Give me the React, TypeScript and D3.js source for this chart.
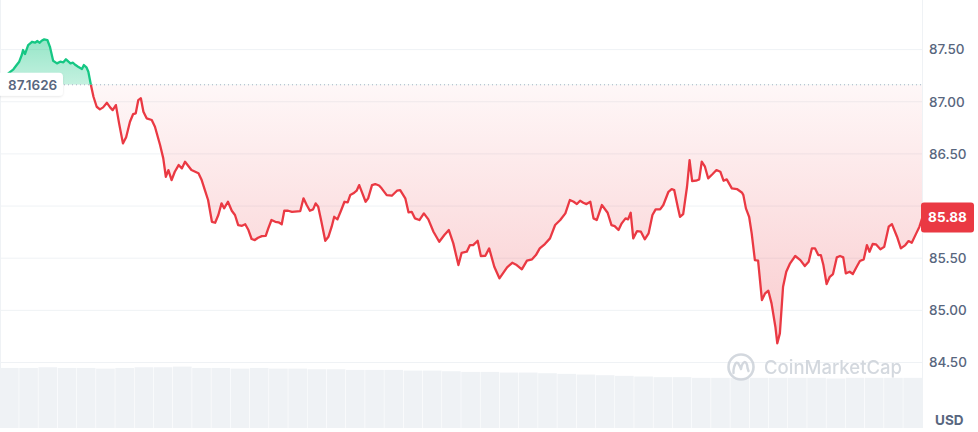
import React from 'react';
import * as d3 from 'd3';

const minutes = [0,13,21,26,30,34,36,39,44,50,55,58,62,65,69,74,78,83,89,94,99,103,107,110,114,118,122,128,131,135,138,142,146,151,156,161,167,172,176,181,186,192,197,203,208,212,216,220,224,229,237,242,250,255,259,263,268,273,279,284,289,
299,310,315,320,325,331,336,341,346,350,356,362,367,372,378,383,388,393,398,403,409,415,419,424,430,435,440,444,450,456,469,474,479,484,489,493,497,502,508,513,518,522,527,533,538,543,547,552,557,561,566,571,575,581,
586,592,596,604,612,620,625,633,638,643,648,655,662,669,677,686,694,701,708,716,721,729,734,739,746,751,758,764,772,780,786,792,800,807,815,823,831,837,843,851,859,867,
875,883,890,896,901,906,911,916,922,927,932,940,949,955,960,966,971,977,981,985,989,995,1001,1007,1013,1019,1024,1031,1036,1044,1049,1053,1059,1062,1067,1073,1077,1081,1087,1092,1096,1101,1106,1113,1119,1125,1130,1135,1143,1151,1159,
1161,1165,1170,1174,1179,1184,1190,1195,1200,1205,1211,1214,1218,1223,1228,1234,1242,1250,1257,1263,1268,1273,1278,1282,1286,1291,1296,1301,1307,1312,1317,1321,1327,1332,1338,1343,1349,1354,1358,1363,1368,1375,1381,1388,1393,1401,1407,1414,1419,1424,1431,1436,1440];

const prices = [87.163,87.272,87.311,87.352,87.384,87.448,87.496,87.457,87.544,87.575,87.566,87.582,87.566,87.585,87.598,87.592,87.527,87.393,87.368,87.384,87.378,87.407,87.384,87.368,87.374,87.352,87.336,87.314,87.352,87.330,87.288,87.160,87.048,86.952,86.927,86.946,86.990,86.946,86.920,86.968,86.793,86.601,86.659,86.808,86.882,86.889,87.016,87.033,86.904,86.841,86.825,86.760,86.585,86.457,86.281,86.345,86.249,86.329,86.393,86.361,86.425,
86.345,86.314,86.249,86.153,86.058,85.849,85.840,85.914,86.026,85.978,86.041,85.955,85.914,85.818,85.811,85.825,85.770,85.684,85.674,85.696,85.712,85.715,85.786,85.866,85.849,85.844,85.825,85.955,85.955,85.945,85.952,86.074,86.010,85.955,85.968,86.026,85.993,85.849,85.667,85.706,85.802,85.897,85.872,85.962,86.041,86.035,86.105,86.122,86.147,86.201,86.122,86.041,86.074,86.201,
86.211,86.197,86.170,86.105,86.099,86.147,86.153,86.074,85.940,85.945,85.882,85.866,85.930,85.872,85.754,85.658,85.722,85.770,85.642,85.434,85.552,85.562,85.626,85.626,85.667,85.521,85.523,85.594,85.418,85.307,85.360,85.412,85.456,85.434,85.393,85.476,85.489,85.530,85.594,85.636,85.690,85.818,
85.866,85.930,86.058,86.041,86.019,86.051,86.032,86.019,86.041,85.882,85.866,86.010,85.936,85.818,85.808,85.770,85.834,85.882,85.872,85.936,85.690,85.760,85.754,85.681,85.738,85.914,85.968,85.968,86.010,86.137,86.163,86.153,85.978,85.897,85.923,86.185,86.441,86.240,86.243,86.256,86.425,86.377,86.266,86.307,86.345,86.329,86.243,86.256,86.170,86.163,86.128,
86.105,85.978,85.897,85.738,85.482,85.476,85.099,85.163,85.188,85.067,84.843,84.684,84.779,85.226,85.370,85.451,85.521,85.482,85.425,85.466,85.594,85.594,85.530,85.530,85.434,85.252,85.322,85.348,85.508,85.521,85.508,85.355,85.370,85.348,85.418,85.473,85.489,85.626,85.562,85.636,85.633,85.585,85.610,85.802,85.827,85.706,85.594,85.626,85.664,85.648,85.738,85.802,85.880];

const volumes = [91,91,92,91,91,90,91,92,92,93,91,91,90,91,90,90,
89,89,88,88,88,87,87,86,85,85,84,84,83,82,81,80,
79,78,77,77,76,76,76,76,76,76,76,75,76,76,76,76];

const yTicks = [87.5, 87.0, 86.5, 86.0, 85.5, 85.0, 84.5];
const tickLabels = ['87.50', '87.00', '86.50', '86.00', '85.50', '85.00', '84.50'];
const openPrice = 87.1626;
const openLabel = '87.1626';
const lastPrice = 85.88;
const lastLabel = '85.88';
const currency = 'USD';
const watermark = 'CoinMarketCap';

const W = 978;
const H = 432;
const plotRight = 922;
const volBottom = 428;

const GREEN = '#16c784';
const RED = '#ea3943';
const GREY_TEXT = '#58667e';
const GRID = '#eff2f5';
const FONT = 'Inter, "Noto Sans", sans-serif';

export default function App() {
  const data = minutes.map((m, i) => ({ t: m, v: prices[i] }));
  const x = d3.scaleLinear().domain([0, 1440]).range([0, plotRight]);
  const y = d3.scaleLinear().domain([84.5, 87.5]).range([362.5, 49.6]);
  const yOpen = y(openPrice);

  const xVol = d3.scaleBand<number>().domain(volumes.map((_, i) => i)).range([0, plotRight]).paddingInner(0.03);
  const yVol = d3.scaleLinear().domain([0, 100]).range([volBottom, 362]);

  const line = d3.line<{ t: number; v: number }>().x(d => x(d.t)).y(d => y(d.v));
  const area = d3.area<{ t: number; v: number }>().x(d => x(d.t)).y0(yOpen).y1(d => y(d.v));
  const linePath = line(data) || '';
  const areaPath = area(data) || '';

  const yLast = y(lastPrice);
  const minY = y(d3.min(prices) as number);
  const maxY = y(d3.max(prices) as number);

  return (
    <svg width={W} height={H} style={{ position: 'absolute', left: 0, top: 0, background: '#fff' }} fontFamily={FONT}>
      <defs>
        <clipPath id="above">
          <rect x={0} y={0} width={plotRight} height={yOpen} />
        </clipPath>
        <clipPath id="below">
          <rect x={0} y={yOpen} width={plotRight} height={H - yOpen} />
        </clipPath>
        <linearGradient id="gGreen" gradientUnits="userSpaceOnUse" x1={0} y1={maxY} x2={0} y2={yOpen}>
          <stop offset="0" stopColor={GREEN} stopOpacity={0.45} />
          <stop offset="1" stopColor={GREEN} stopOpacity={0.25} />
        </linearGradient>
        <linearGradient id="gRed" gradientUnits="userSpaceOnUse" x1={0} y1={yOpen} x2={0} y2={minY}>
          <stop offset="0" stopColor={RED} stopOpacity={0.04} />
          <stop offset="1" stopColor={RED} stopOpacity={0.26} />
        </linearGradient>
        <filter id="shadow" x="-20%" y="-30%" width="140%" height="170%">
          <feDropShadow dx="0" dy="1" stdDeviation="1.2" floodColor="#000" floodOpacity="0.1" />
        </filter>
      </defs>

      {/* gridlines */}
      {yTicks.map((t, i) => (
        <line key={i} x1={0} x2={plotRight} y1={y(t)} y2={y(t)} stroke={GRID} strokeWidth={1} />
      ))}
      <line x1={0.5} x2={0.5} y1={0} y2={volBottom} stroke={GRID} strokeWidth={1} />
      <line x1={plotRight + 0.5} x2={plotRight + 0.5} y1={0} y2={volBottom} stroke={GRID} strokeWidth={1} />

      {/* volume */}
      {volumes.map((v, i) => (
        <rect key={i} x={xVol(i)} width={xVol.bandwidth()} y={yVol(v)} height={volBottom - yVol(v)} fill="#eff2f5" />
      ))}

      {/* areas */}
      <path d={areaPath} fill="url(#gGreen)" clipPath="url(#above)" />
      <path d={areaPath} fill="url(#gRed)" clipPath="url(#below)" />

      {/* baseline */}
      <line x1={0} x2={plotRight} y1={yOpen} y2={yOpen} stroke="#a6b0c3" strokeWidth={1} strokeDasharray="1 3" />

      {/* watermark */}
      <g opacity={0.9}>
        <circle cx={741} cy={367} r={12.5} fill="none" stroke="#cfd4db" strokeWidth={2.6} />
        <path d="M733.5,373 L733.5,370 Q735,361 738,363 Q740,366 741,369 Q742,363 744.5,362 Q747,362 747.5,368 L748.5,371"
          fill="none" stroke="#cfd4db" strokeWidth={2.4} strokeLinecap="round" strokeLinejoin="round" />
        <text x={764} y={367} dy="0.36em" fontSize={18.5} fontWeight={500} fill="#cfd4db">{watermark}</text>
      </g>

      {/* lines */}
      <path d={linePath} fill="none" stroke={GREEN} strokeWidth={2.3} strokeLinejoin="round" clipPath="url(#above)" />
      <path d={linePath} fill="none" stroke={RED} strokeWidth={2.3} strokeLinejoin="round" clipPath="url(#below)" />

      {/* open label */}
      <g filter="url(#shadow)">
        <rect x={-4} y={yOpen - 12} width={67} height={23} rx={4} fill="#fff" />
      </g>
      <text x={8} y={yOpen} dy="0.36em" fontSize={13.5} fontWeight={600} fill={GREY_TEXT}>{openLabel}</text>

      {/* right axis labels */}
      {yTicks.map((t, i) =>
        Math.abs(y(t) - yLast) < 16 ? null : (
          <text key={i} x={929} y={y(t)} dy="0.36em" fontSize={13.5} fontWeight={500} fill={GREY_TEXT}>{tickLabels[i]}</text>
        )
      )}

      {/* last price tag */}
      <rect x={921} y={yLast - 16} width={53} height={30} rx={3} fill={RED} />
      <text x={947.5} y={yLast - 1} dy="0.36em" textAnchor="middle" fontSize={13.5} fontWeight={700} fill="#fff">{lastLabel}</text>

      <text x={935} y={420} dy="0.36em" fontSize={13.5} fontWeight={700} fill={GREY_TEXT}>{currency}</text>
    </svg>
  );
}
